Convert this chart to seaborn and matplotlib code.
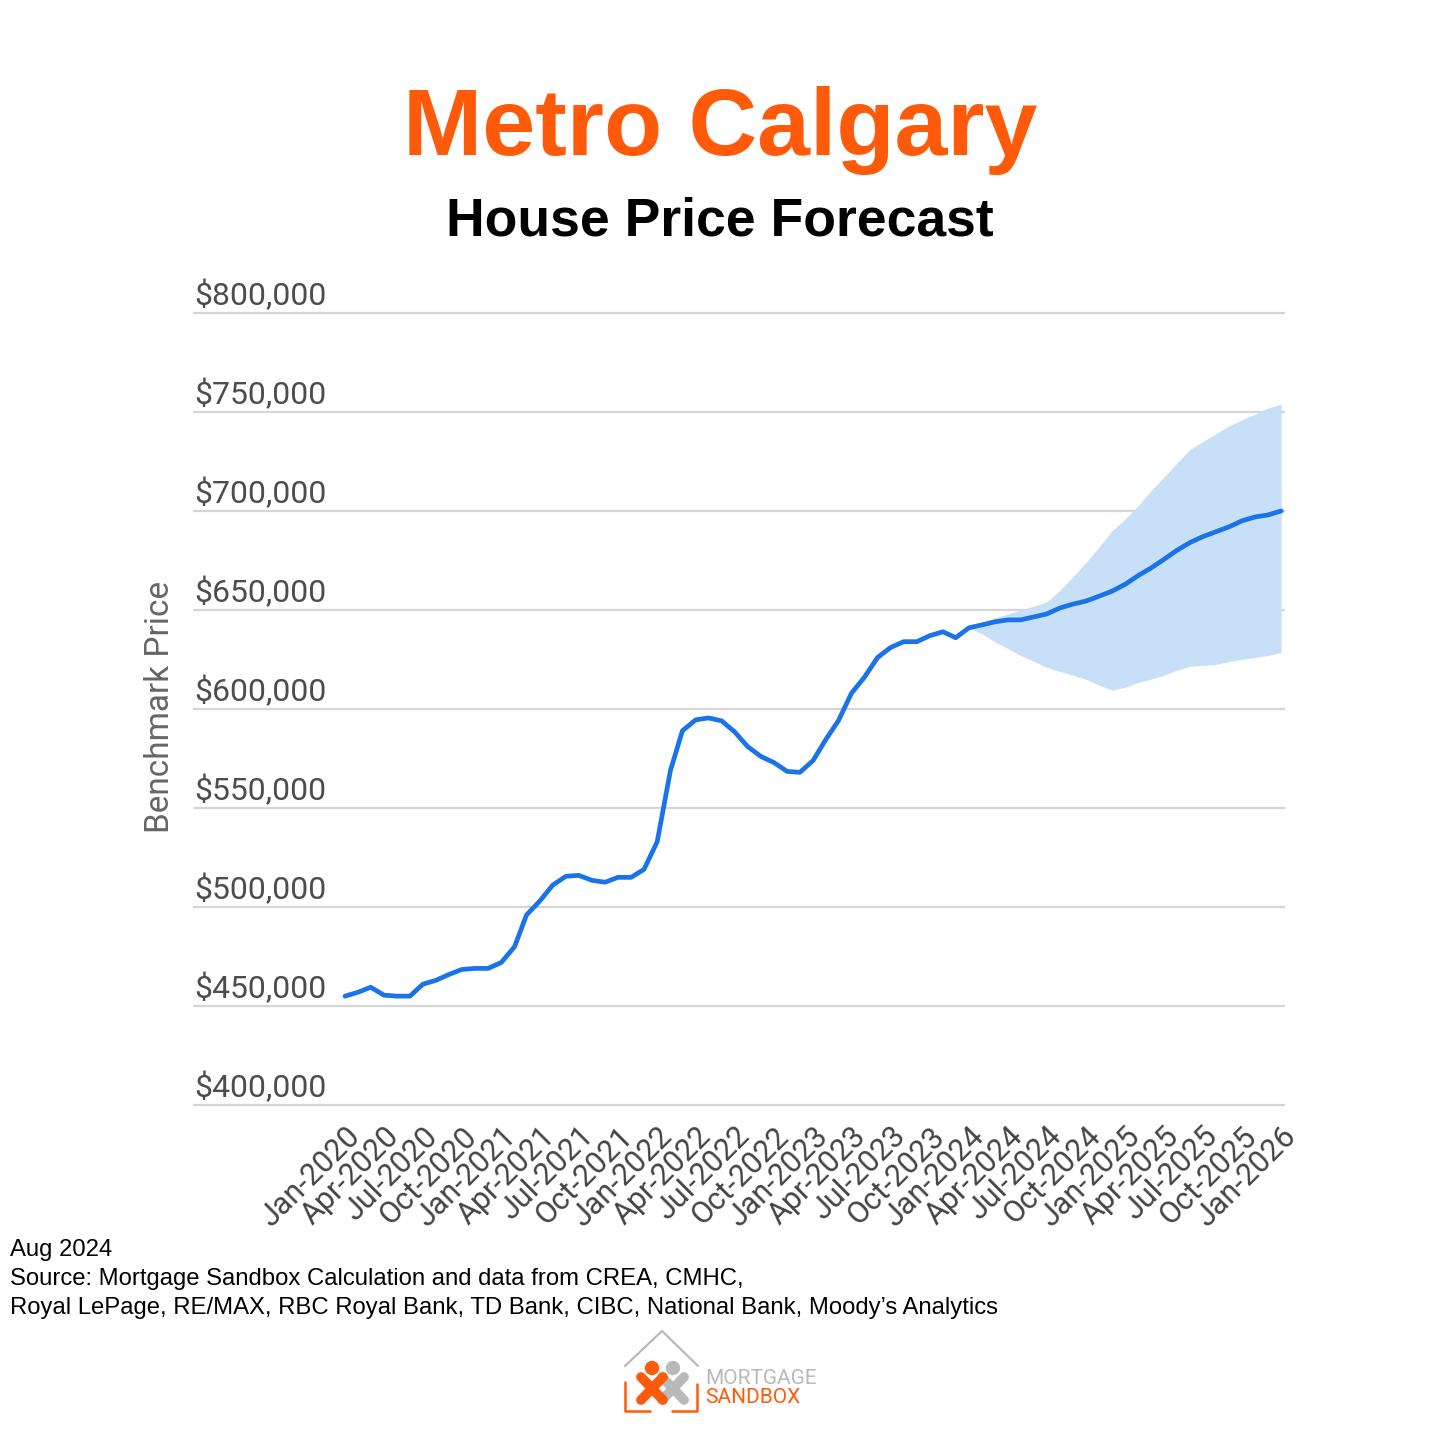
import numpy as np
import pandas as pd
import matplotlib
matplotlib.use("Agg")
import matplotlib.pyplot as plt
import matplotlib.transforms as mtransforms
from matplotlib.lines import Line2D
from matplotlib.patches import Circle
import seaborn as sns

# --- Data (in $000s) ---
months = pd.date_range("2020-01-01", "2026-01-01", freq="MS")

price = [
    455, 457, 459.5, 455.5, 455, 455, 461, 463, 466, 468.5, 469, 469,      # 2020
    472, 480, 496, 503, 511, 515.5, 516, 513.5, 512.5, 515, 515, 519,      # 2021
    533, 569, 589, 594.5, 595.5, 594, 588.5, 581, 576, 573, 568.5, 568,    # 2022
    574, 585, 594, 608, 616, 626, 631, 634, 634, 637, 639, 636,            # 2023
    641, 642.5, 644, 645, 645, 646.5, 648, 651, 653, 654.5, 657, 659.5,    # 2024
    663, 667.5, 671, 675.5, 680, 684, 687, 689.5, 692, 695, 697, 698,      # 2025
    700,                                                                   # Jan 2026
]

# forecast range starts Jan 2024
band_months = months[48:]
band_upper = [641, 643.5, 646, 648, 650, 652, 654, 660, 667, 674, 682, 690,
              696, 703, 710, 717, 724, 731, 735, 739, 743, 746, 749, 752, 754]
band_lower = [641, 638, 634, 630.5, 627, 624, 621, 619, 617, 615, 612, 609.5,
              611, 613.5, 615, 617, 619.5, 621.5, 622, 622.5, 624, 625, 626, 627, 628.5]

y_ticks = [400, 450, 500, 550, 600, 650, 700, 750, 800]

df = pd.DataFrame({"month": months, "price": np.array(price) * 1000})

LINE_BLUE = "#1a73e8"
BAND_BLUE = "#c7e0f8"
ORANGE = "#ff5a0a"

sns.set_theme(style="white")
plt.rcParams["font.family"] = ["Roboto", "DejaVu Sans"]

fig = plt.figure(figsize=(14.4, 14.4), dpi=100)
ax = fig.add_axes([193 / 1440, 1 - 1109 / 1440, 1092 / 1440, 800 / 1440])

ax.fill_between(band_months, np.array(band_lower) * 1000, np.array(band_upper) * 1000,
                color=BAND_BLUE, lw=0, zorder=1)
sns.lineplot(data=df, x="month", y="price", ax=ax, color=LINE_BLUE, lw=3.4, zorder=3,
             solid_joinstyle="round", solid_capstyle="round")

ax.set_ylim(398000, 802000)
ax.set_xlim(months[0] - pd.Timedelta(days=356), months[-1] + pd.Timedelta(days=9))

# gridlines + labels sitting above them (Google-chart style)
ax.set_yticks([v * 1000 for v in y_ticks])
ax.set_yticklabels([])
ax.yaxis.grid(True, color="#d6d6d6", lw=1.6, zorder=0)
ax.xaxis.grid(False)
ax.tick_params(axis="y", length=0)
trans = mtransforms.blended_transform_factory(ax.transAxes, ax.transData)
for v in y_ticks:
    ax.annotate(f"${v * 1000:,.0f}", xy=(0, v * 1000), xycoords=trans,
                xytext=(1, 6), textcoords="offset points",
                ha="left", va="baseline", fontsize=23, color="#4d4d4d")

tick_months = months[::3]
ax.set_xticks(tick_months)
ax.set_xticklabels([d.strftime("%b-%Y") for d in tick_months], rotation=45,
                   ha="right", rotation_mode="anchor", fontsize=22, color="#444444")
ax.tick_params(axis="x", length=0, pad=9)

ax.set_xlabel("")
ax.set_ylabel("")
sns.despine(ax=ax, left=True, bottom=True)

fig.text(160 / 1440, 1 - 707 / 1440, "Benchmark Price", rotation=90, ha="center",
         va="center", fontsize=24, color="#666666")

# --- Titles ---
fig.text(0.5, 1 - 155 / 1440, "Metro Calgary", ha="center", va="baseline",
         fontsize=68.5, fontweight="bold", color=ORANGE, family=["Liberation Sans"])
fig.text(0.5, 1 - 236 / 1440, "House Price Forecast", ha="center", va="baseline",
         fontsize=38.5, fontweight="bold", color="black", family=["Liberation Sans"])

# --- Footer ---
footer = [
    "Aug 2024",
    "Source: Mortgage Sandbox Calculation and data from CREA, CMHC,",
    "Royal LePage, RE/MAX, RBC Royal Bank, TD Bank, CIBC, National Bank, Moody\u2019s Analytics",
]
for i, line in enumerate(footer):
    fig.text(10 / 1440, 1 - (1256 + 29 * i) / 1440, line, ha="left", va="baseline",
             fontsize=17.2, color="black", family=["Liberation Sans"])

# --- Logo ---
def fx(px):
    return px / 1440

def fy(py):
    return 1 - py / 1440

gray = "#b9b9b9"
fig.add_artist(Line2D([fx(625), fx(662), fx(698)], [fy(1366), fy(1331), fy(1366)],
                      color=gray, lw=1.6))
fig.add_artist(Line2D([fx(625), fx(625), fx(650)], [fy(1382), fy(1411), fy(1411)],
                      color=ORANGE, lw=1.8))
fig.add_artist(Line2D([fx(672), fx(697), fx(697)], [fy(1411), fy(1411), fy(1384)],
                      color=ORANGE, lw=1.8))
for cx, col in [(673, gray), (652, ORANGE)]:
    fig.add_artist(Line2D([fx(cx - 11), fx(cx + 11)], [fy(1377), fy(1400)], color=col,
                          lw=7, solid_capstyle="round"))
    fig.add_artist(Line2D([fx(cx - 11), fx(cx + 11)], [fy(1400), fy(1377)], color=col,
                          lw=7, solid_capstyle="round"))
    fig.add_artist(Circle((fx(cx), fy(1368)), 0.0045, color=col, transform=fig.transFigure))
fig.text(fx(705), fy(1384), "MORTGAGE", ha="left", va="baseline", fontsize=15,
         color=gray, family=["Roboto"])
fig.text(fx(705), fy(1403), "SANDBOX", ha="left", va="baseline", fontsize=15,
         color=ORANGE, family=["Roboto"])

plt.savefig("out.png", dpi=100)
